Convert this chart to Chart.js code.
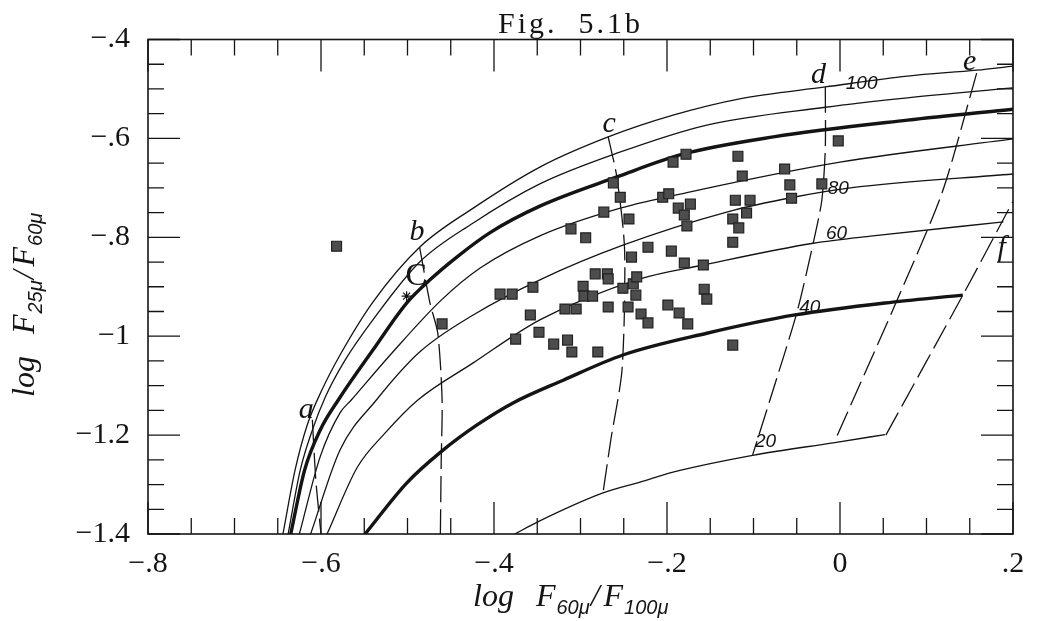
<!DOCTYPE html>
<html lang="en">
<head>
<meta charset="utf-8">
<title>Fig. 5.1b</title>
<script src="https://cdn.jsdelivr.net/npm/chart.js@4.4.1/dist/chart.umd.min.js"></script>
<style>
  html, body { margin: 0; padding: 0; background: #ffffff; }
  #box { position: relative; width: 1039px; height: 621px; }
</style>
</head>
<body>
<div id="box"><canvas id="fig" width="1039" height="621"></canvas></div>
<script>
// ---- axis ticks ----
const xTickValues = [-0.8, -0.6, -0.4, -0.2, 0, 0.2];
const xTickLabels = ['−.8', '−.6', '−.4', '−.2', '0', '.2'];
const yTickValues = [-1.4, -1.2, -1.0, -0.8, -0.6, -0.4];
const yTickLabels = ['−1.4', '−1.2', '−1', '−.8', '−.6', '−.4'];

// ---- model curves (solid), [log F60/F100, log F25/F60] ----
const curve100 = [[-0.644,-1.4],[-0.630,-1.271],[-0.616,-1.180],[-0.599,-1.109],[-0.578,-1.038],[-0.540,-0.931],[-0.486,-0.820],[-0.424,-0.741],[-0.347,-0.658],[-0.268,-0.597],[-0.193,-0.553],[-0.116,-0.520],[-0.017,-0.496],[0.078,-0.474],[0.158,-0.462],[0.2,-0.454]];
const curveB = [[-0.638,-1.4],[-0.624,-1.271],[-0.610,-1.190],[-0.595,-1.123],[-0.572,-1.048],[-0.540,-0.967],[-0.486,-0.850],[-0.424,-0.771],[-0.347,-0.692],[-0.258,-0.630],[-0.154,-0.573],[-0.017,-0.537],[0.078,-0.518],[0.2,-0.498]];
const curveC = [[-0.635,-1.4],[-0.619,-1.271],[-0.601,-1.190],[-0.580,-1.129],[-0.540,-1.028],[-0.501,-0.933],[-0.474,-0.886],[-0.443,-0.840],[-0.405,-0.791],[-0.347,-0.737],[-0.258,-0.678],[-0.182,-0.632],[-0.077,-0.597],[0.078,-0.563],[0.2,-0.541]];
const curveD = [[-0.625,-1.4],[-0.601,-1.244],[-0.578,-1.155],[-0.565,-1.129],[-0.520,-1.038],[-0.461,-0.927],[-0.416,-0.862],[-0.347,-0.797],[-0.254,-0.741],[-0.173,-0.708],[0.0,-0.648],[0.2,-0.601]];
const curve80 = [[-0.612,-1.4],[-0.578,-1.230],[-0.536,-1.129],[-0.486,-1.032],[-0.424,-0.957],[-0.347,-0.886],[-0.251,-0.816],[-0.131,-0.749],[-0.054,-0.719],[0.012,-0.700],[0.2,-0.672]];
const curve60 = [[-0.593,-1.4],[-0.558,-1.265],[-0.526,-1.196],[-0.488,-1.129],[-0.424,-1.054],[-0.347,-0.967],[-0.231,-0.884],[-0.158,-0.856],[-0.031,-0.812],[0.038,-0.797],[0.189,-0.769]];
const curve40 = [[-0.549,-1.4],[-0.501,-1.297],[-0.460,-1.232],[-0.420,-1.180],[-0.378,-1.135],[-0.320,-1.089],[-0.251,-1.038],[-0.154,-0.994],[-0.052,-0.957],[0.061,-0.931],[0.142,-0.917]];
const curve20 = [[-0.376,-1.4],[-0.350,-1.376],[-0.274,-1.317],[-0.231,-1.295],[-0.193,-1.275],[-0.101,-1.241],[-0.006,-1.215],[0.052,-1.199]];

// ---- model tracks (dashed) ----
const trackA = [[-0.610,-1.169],[-0.606,-1.291],[-0.600,-1.4]];
const trackB = [[-0.486,-0.820],[-0.474,-0.933],[-0.465,-0.994],[-0.460,-1.129],[-0.461,-1.250],[-0.462,-1.4]];
const trackC = [[-0.268,-0.597],[-0.258,-0.678],[-0.249,-0.826],[-0.252,-1.068],[-0.265,-1.210],[-0.274,-1.317]];
const trackD = [[-0.017,-0.496],[-0.017,-0.620],[-0.021,-0.725],[-0.031,-0.812],[-0.050,-0.953],[-0.081,-1.129],[-0.101,-1.240]];
const trackE = [[0.158,-0.468],[0.118,-0.710],[0.066,-0.927],[0.015,-1.129],[-0.006,-1.212]];
const trackF = [[0.053,-1.200],[0.142,-0.917],[0.2,-0.727]];

// ---- observed galaxies ----
const sourceX = [-0.582,-0.460,-0.393,-0.379,-0.355,-0.358,-0.348,-0.375,-0.331,-0.315,-0.310,-0.280,-0.318,-0.305,-0.297,-0.296,-0.286,-0.283,-0.269,-0.268,-0.268,-0.245,-0.251,-0.239,-0.235,-0.236,-0.230,-0.222,-0.199,-0.186,-0.176,-0.241,-0.222,-0.195,-0.180,-0.158,-0.157,-0.154,-0.311,-0.294,-0.273,-0.244,-0.262,-0.254,-0.205,-0.198,-0.187,-0.173,-0.180,-0.177,-0.193,-0.178,-0.118,-0.113,-0.121,-0.104,-0.108,-0.124,-0.117,-0.124,-0.064,-0.058,-0.056,-0.021,-0.002,-0.124];
const sourceY = [-0.818,-0.975,-0.915,-0.915,-0.901,-0.957,-0.992,-1.006,-1.016,-1.008,-1.032,-1.032,-0.945,-0.945,-0.899,-0.919,-0.919,-0.874,-0.874,-0.884,-0.941,-0.941,-0.903,-0.894,-0.880,-0.917,-0.955,-0.973,-0.937,-0.953,-0.975,-0.840,-0.820,-0.828,-0.852,-0.856,-0.905,-0.925,-0.783,-0.801,-0.749,-0.763,-0.690,-0.719,-0.719,-0.712,-0.741,-0.733,-0.755,-0.777,-0.648,-0.632,-0.636,-0.676,-0.725,-0.725,-0.751,-0.763,-0.781,-0.810,-0.662,-0.694,-0.721,-0.692,-0.605,-1.018];

// marked object "C"
const markX = [-0.501];
const markY = [-0.919];

// ---- annotations (data coordinates, text baseline) ----
const trackLabels = ['a', 'b', 'c', 'd', 'e', 'f'];
const trackLabelX = [-0.617, -0.489, -0.267, -0.025, 0.150, 0.187];
const trackLabelY = [-1.165, -0.806, -0.587, -0.488, -0.462, -0.838];
const curveLabels = ['100', '80', '60', '40', '20'];
const curveLabelX = [0.025, -0.002, -0.004, -0.035, -0.086];
const curveLabelY = [-0.500, -0.712, -0.803, -0.953, -1.224];
const markLabel = 'C';
const markLabelX = -0.490;
const markLabelY = -0.896;

const INK = '#141414';
const toXY = pts => pts.map(p => ({ x: p[0], y: p[1] }));

function solid(pts, width) {
  return {
    data: toXY(pts), borderColor: INK, borderWidth: width, pointRadius: 0,
    cubicInterpolationMode: 'monotone', fill: false, order: 2
  };
}
function dashed(pts) {
  return {
    data: toXY(pts), borderColor: INK, borderWidth: 1.3, pointRadius: 0,
    borderDash: [26, 7], tension: 0.25, fill: false, order: 2
  };
}

const datasets = [
  solid(curve100, 1.3), solid(curveB, 1.3), solid(curveC, 3.4), solid(curveD, 1.3),
  solid(curve80, 1.3), solid(curve60, 1.3), solid(curve40, 3.4), solid(curve20, 1.3),
  dashed(trackA), dashed(trackB), dashed(trackC), dashed(trackD), dashed(trackE), dashed(trackF),
  {
    data: sourceX.map((x, i) => ({ x, y: sourceY[i] })), showLine: false,
    pointStyle: 'rect', pointRadius: 7, backgroundColor: '#4d4d4d',
    borderColor: '#222', borderWidth: 1.2, order: 0
  },
  {
    data: markX.map((x, i) => ({ x, y: markY[i] })), showLine: false,
    pointStyle: 'star', pointRadius: 5, borderColor: INK, borderWidth: 1.2, order: 0
  }
];

const SERIF = '"Liberation Serif", "DejaVu Serif", serif';
const SANS = '"Liberation Sans", "DejaVu Sans", sans-serif';

// lays out "log  F_sub / F_sub" along the current x direction from u = 0
function drawRatioTitle(ctx, sub1, sub2) {
  const main = 'italic 32px ' + SERIF;
  const sub = 'italic 20px ' + SANS;
  const w = (t, f) => { ctx.font = f; return ctx.measureText(t).width; };
  let u = 0;
  ctx.font = main; ctx.fillText('log', u, 0);
  u += w('log', main) + 22;
  ctx.font = main; ctx.fillText('F', u, 0);
  u += w('F', main) + 1;
  ctx.font = sub; ctx.fillText(sub1, u, 8);
  u += w(sub1, sub) + 1;
  ctx.font = main; ctx.fillText('/', u, 0);
  u += w('/', main) + 4;
  ctx.fillText('F', u, 0);
  u += w('F', main) + 1;
  ctx.font = sub; ctx.fillText(sub2, u, 8);
}

// frame with inward ticks on all four sides, plus annotations
const paperPlugin = {
  id: 'paper',
  beforeDraw(chart) {
    const { ctx, width, height } = chart;
    ctx.save();
    ctx.fillStyle = '#ffffff';
    ctx.fillRect(0, 0, width, height);
    ctx.restore();
  },
  afterDatasetsDraw(chart) {
    const { ctx, chartArea: a, scales } = chart;
    const sx = scales.x, sy = scales.y;
    ctx.save();
    ctx.strokeStyle = INK;
    ctx.lineWidth = 1.6;
    ctx.strokeRect(a.left, a.top, a.right - a.left, a.bottom - a.top);
    ctx.lineWidth = 1.3;
    ctx.beginPath();
    for (let i = 0; i <= 20; i++) {
      const len = i % 4 === 0 ? 32 : 16;
      const px = sx.getPixelForValue(-0.8 + i * 0.05);
      ctx.moveTo(px, a.bottom); ctx.lineTo(px, a.bottom - len);
      ctx.moveTo(px, a.top); ctx.lineTo(px, a.top + len);
      const py = sy.getPixelForValue(-1.4 + i * 0.05);
      ctx.moveTo(a.left, py); ctx.lineTo(a.left + len, py);
      ctx.moveTo(a.right, py); ctx.lineTo(a.right - len, py);
    }
    ctx.stroke();

    ctx.fillStyle = INK;
    ctx.textAlign = 'center';
    ctx.textBaseline = 'alphabetic';
    ctx.font = 'italic 30px ' + SERIF;
    trackLabels.forEach((t, i) => {
      ctx.fillText(t, sx.getPixelForValue(trackLabelX[i]), sy.getPixelForValue(trackLabelY[i]));
    });
    ctx.font = 'italic 19px ' + SANS;
    curveLabels.forEach((t, i) => {
      ctx.fillText(t, sx.getPixelForValue(curveLabelX[i]), sy.getPixelForValue(curveLabelY[i]));
    });
    ctx.font = '32px ' + SERIF;
    ctx.fillText(markLabel, sx.getPixelForValue(markLabelX), sy.getPixelForValue(markLabelY));
    ctx.restore();
  },
  afterDraw(chart) {
    const { ctx, chartArea: a } = chart;
    ctx.save();
    ctx.fillStyle = INK;
    ctx.textBaseline = 'alphabetic';

    // figure caption
    ctx.font = '30px ' + SERIF;
    ctx.textAlign = 'center';
    if ('letterSpacing' in ctx) ctx.letterSpacing = '3px';
    ctx.fillText('Fig.  5.1b', (a.left + a.right) / 2 - 10, 33);
    if ('letterSpacing' in ctx) ctx.letterSpacing = '0px';
    ctx.textAlign = 'left';

    // x axis title
    ctx.save();
    ctx.translate(a.left + 325, a.bottom + 72);
    drawRatioTitle(ctx, '60μ', '100μ');
    ctx.restore();

    // y axis title
    ctx.save();
    ctx.translate(34, 397);
    ctx.rotate(-Math.PI / 2);
    drawRatioTitle(ctx, '25μ', '60μ');
    ctx.restore();
    ctx.restore();
  }
};

const tickFont = { family: SERIF, size: 30 };

new Chart(document.getElementById('fig'), {
  type: 'line',
  data: { datasets },
  options: {
    responsive: false,
    devicePixelRatio: 1,
    animation: false,
    events: [],
    layout: { padding: { left: 0, right: 26, top: 39.5, bottom: 0 } },
    plugins: { legend: { display: false }, tooltip: { enabled: false }, title: { display: false } },
    scales: {
      x: {
        type: 'linear', min: -0.8, max: 0.2,
        grid: { display: false, drawTicks: false }, border: { display: false },
        afterBuildTicks: s => { s.ticks = xTickValues.map(v => ({ value: v })); },
        afterFit: s => { s.height = 87; },
        ticks: { callback: (v, i) => xTickLabels[i], font: tickFont, color: INK, padding: 12, maxRotation: 0, autoSkip: false }
      },
      y: {
        type: 'linear', min: -1.4, max: -0.4,
        grid: { display: false, drawTicks: false }, border: { display: false },
        afterBuildTicks: s => { s.ticks = yTickValues.map(v => ({ value: v })); },
        afterFit: s => { s.width = 148; },
        ticks: { callback: (v, i) => yTickLabels[i], font: tickFont, color: INK, padding: 18, autoSkip: false }
      }
    }
  },
  plugins: [paperPlugin]
});
</script>
</body>
</html>
